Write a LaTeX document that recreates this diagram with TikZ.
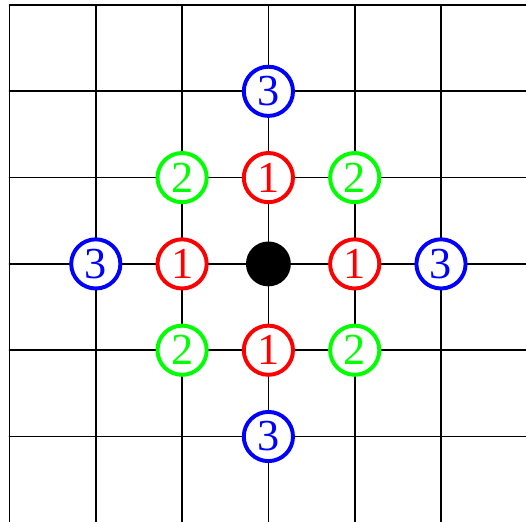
\documentclass[tikz,border=0pt]{standalone}
\usepackage{fontspec}
\setmainfont{Liberation Serif}
\begin{document}
\begin{tikzpicture}[line cap=round,line join=round,
  ring/.style={circle,draw=#1,text=#1,line width=1.3pt,fill=white,
    minimum size=5.7mm,inner sep=0pt,font=\fontsize{14.6}{16}\selectfont}]
  \useasboundingbox (-0.11,0.015) rectangle (5.985,6.058);
  \draw[line width=0.55pt] (0,0) grid (6,6);
  \node[circle,fill=black,minimum size=5.2mm,inner sep=0pt] (c) at (3,3) {};
  % rings at distance 1, 2 and 3 from the centre
  \foreach \x/\y/\n/\col in
   {3/4/1/red,4/3/1/red,3/2/1/red,2/3/1/red,
    2/4/2/green,4/4/2/green,4/2/2/green,2/2/2/green,
    3/5/3/blue,5/3/3/blue,3/1/3/blue,1/3/3/blue}
    \node[ring=\col] (r\x\y) at (\x,\y) {\n};
\end{tikzpicture}
\end{document}
